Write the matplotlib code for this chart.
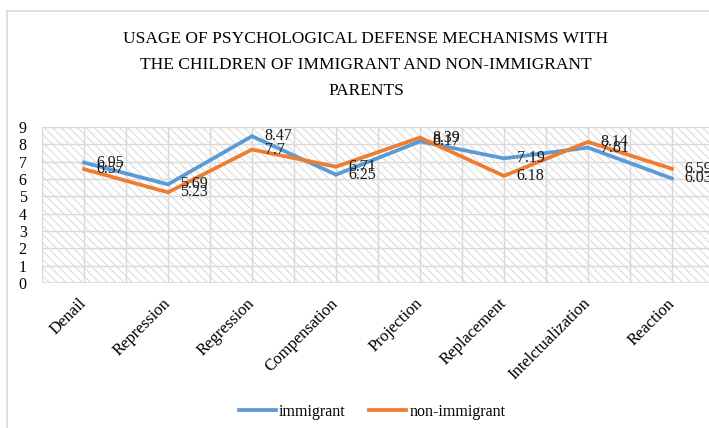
import matplotlib
matplotlib.use("Agg")
import matplotlib.pyplot as plt
from matplotlib.patches import Rectangle
from matplotlib.lines import Line2D

categories = ["Denail", "Repression", "Regression", "Compensation",
              "Projection", "Replacement", "Intelctualization", "Reaction"]
immigrant = [6.95, 5.69, 8.47, 6.25, 8.17, 7.19, 7.81, 6.03]
non_immigrant = [6.57, 5.23, 7.7, 6.71, 8.39, 6.18, 8.14, 6.59]
y_ticks = [0, 1, 2, 3, 4, 5, 6, 7, 8, 9]

title = ("USAGE OF PSYCHOLOGICAL DEFENSE MECHANISMS WITH\n"
         "THE CHILDREN OF IMMIGRANT AND NON-IMMIGRANT\n"
         "PARENTS")

blue = "#5B9BD5"
orange = "#ED7D31"
grey = "#D9D9D9"

plt.rcParams['font.family'] = ['Liberation Serif', 'DejaVu Serif']
plt.rcParams['hatch.color'] = grey
plt.rcParams['hatch.linewidth'] = 0.7

W, H = 709, 428
fig = plt.figure(figsize=(W / 100, H / 100), dpi=100)

# plot area in pixels: left 42, right 714 (runs past the edge), top 127, bottom 283
ax = fig.add_axes([42 / W, (H - 283) / H, 672 / W, (283 - 127) / H])

x = list(range(len(categories)))

bg = Rectangle((-0.5, 0), len(categories), 9, facecolor="white",
               edgecolor=grey, linewidth=0, hatch="\\\\\\\\", zorder=0.5)
ax.add_patch(bg)

ax.plot(x, immigrant, color=blue, lw=2.7, zorder=3, solid_joinstyle="miter")
ax.plot(x, non_immigrant, color=orange, lw=2.7, zorder=3, solid_joinstyle="miter")

for xi, v in zip(x, immigrant):
    ax.annotate(f"{v:g}", (xi, v), xytext=(9, 0), textcoords="offset points",
                ha="left", va="center", fontsize=11.5, color="#1a1a1a", zorder=5)
for xi, v in zip(x, non_immigrant):
    ax.annotate(f"{v:g}", (xi, v), xytext=(9, 0), textcoords="offset points",
                ha="left", va="center", fontsize=11.5, color="#1a1a1a", zorder=5)

ax.set_xlim(-0.5, len(categories) - 0.5)
ax.set_ylim(0, 9)
ax.set_yticks(y_ticks)
ax.set_xticks(x)
ax.set_xticklabels(categories, rotation=45, ha="right", va="center",
                   rotation_mode="anchor", fontsize=12)
ax.set_xticks([i + 0.5 for i in range(-1, len(categories))], minor=True)

ax.grid(True, which="both", axis="x", color=grey, lw=1.0, zorder=1)
ax.grid(True, which="major", axis="y", color=grey, lw=1.0, zorder=1)
ax.tick_params(axis="both", which="both", length=0)
ax.tick_params(axis="y", pad=11, labelsize=11.5)
ax.tick_params(axis="x", pad=13)
for s in ax.spines.values():
    s.set_visible(False)
ax.axhline(0, color=grey, lw=1.2, zorder=1.6)

# chart border (left and top visible)
fig.add_artist(Line2D([7 / W, 7 / W], [0, (H - 11) / H], color=grey, lw=1.2))
fig.add_artist(Line2D([7 / W, 1], [(H - 11) / H, (H - 11) / H], color=grey, lw=1.2))

fig.text(366 / W, (H - 65) / H, title, ha="center", va="center",
         fontsize=12.5, linespacing=1.8, color="black")

handles = [Line2D([], [], color=blue, lw=2.7), Line2D([], [], color=orange, lw=2.7)]
fig.legend(handles, ["immigrant", "non-immigrant"], loc="center",
           bbox_to_anchor=(372 / W, (H - 412) / H), ncol=2, frameon=False,
           fontsize=11.5, handlelength=2.3, handletextpad=0.2, columnspacing=1.5)

fig.savefig("out.png", dpi=100)
